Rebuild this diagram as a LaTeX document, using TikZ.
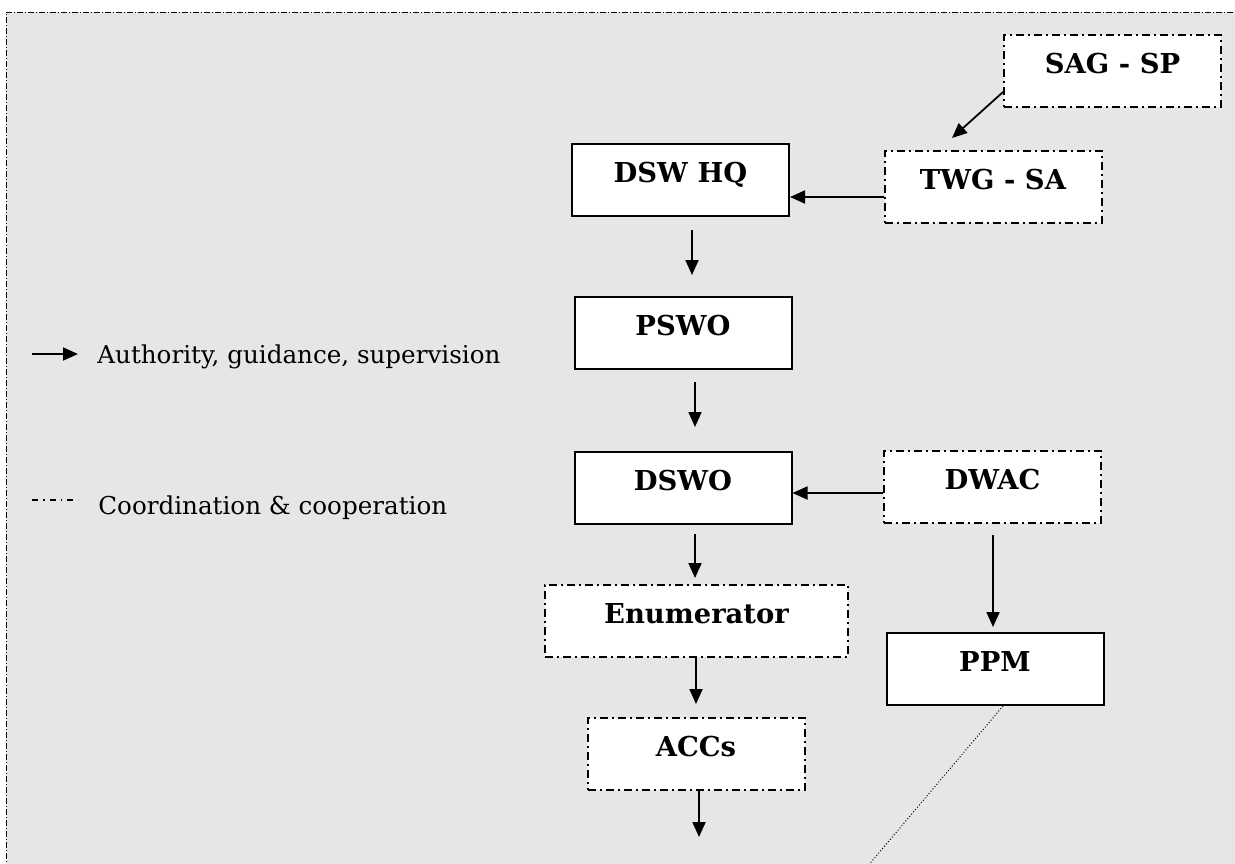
\documentclass[tikz,border=0pt]{standalone}
\usepackage{fontspec}
\setmainfont{DejaVu Serif}
\usetikzlibrary{arrows.meta}
\definecolor{bggray}{RGB}{230,230,230}
\tikzset{
  unit/.style={draw, fill=white, line width=1pt, minimum width=108.5pt, inner sep=0pt,
    text height=19pt, text depth=17pt, anchor=north, font=\fontsize{13.7}{16}\selectfont\bfseries},
  coop/.style={unit, dash pattern=on 4pt off 2pt on 1pt off 2pt},
  flow/.style={-{Triangle[length=7.5pt,width=6.5pt]}, line width=0.9pt},
  legtext/.style={anchor=base west, inner sep=0pt, font=\fontsize{12.3}{14}\selectfont},
}

\begin{document}
\begin{tikzpicture}[x=0.5pt, y=-0.5pt] % reporting lines
\useasboundingbox (0,0) rectangle (1235,863);
\clip (0,0) rectangle (1235,863);
\fill[bggray] (6,12) rectangle (1240,870);
\draw[line width=0.5pt, dash pattern=on 3pt off 1pt on 0.5pt off 1pt] (6,870) -- (6,12) -- (1240,12);

% legend
\coordinate (authA) at (32,354);
\coordinate (authB) at (78,354);
\draw[flow] (authA) -- (authB);
\node[legtext] (auth) at (97,363) {Authority, guidance, supervision};
\coordinate (coopA) at (32,500);
\coordinate (coopB) at (78,500);
\draw[line width=0.6pt, dash pattern=on 3pt off 2.5pt on 0.75pt off 2.5pt] (coopA) -- (coopB);
\node[legtext] (coord) at (98,514) {Coordination \& cooperation};

% boxes
\node[coop] (sagsp) at (1112.5,34) {SAG - SP};
\node[coop] (twgsa) at (993,150) {TWG - SA};
\node[unit] (dswhq) at (680.5,143) {DSW HQ};
\node[unit] (pswo) at (683,296) {PSWO};
\node[unit] (dswo) at (683,451) {DSWO};
\node[coop] (dwac) at (992.5,450) {DWAC};
\node[coop, minimum width=151.5pt] (enum) at (696.5,584) {Enumerator};
\node[coop] (accs) at (696,717) {ACCs};
\node[unit] (ppm) at (995,632) {PPM};
\coordinate (accsend) at (699,837);
\coordinate (ppmend) at (839,900);

% lines
\draw[flow] ([yshift=8pt]sagsp.south west) -- ([xshift=-20.5pt,yshift=6pt]twgsa.north);
\draw[flow] ([yshift=-5pt]twgsa.west) -- ([yshift=-8.5pt]dswhq.east);
\draw[flow] ([xshift=5.75pt,yshift=-6.5pt]dswhq.south) -- ([xshift=4.5pt,yshift=10.5pt]pswo.north);
\draw[flow] ([xshift=6pt,yshift=-6pt]pswo.south) -- ([xshift=6pt,yshift=12pt]dswo.north);
\draw[flow] ([yshift=-3pt]dwac.west) -- ([yshift=-2.5pt]dswo.east);
\draw[flow] ([xshift=6pt,yshift=-4.5pt]dswo.south) -- ([xshift=-0.75pt,yshift=3pt]enum.north);
\draw[flow] ([xshift=0.25pt]dwac.south) ++(0,-5.5pt) -- ([xshift=-1pt,yshift=2.5pt]ppm.north);
\draw[flow] ([xshift=-0.25pt]enum.south) -- ([yshift=6.5pt]accs.north);
\draw[flow] ([xshift=1.5pt]accs.south) -- (accsend);
\draw[line width=0.5pt, dash pattern=on 0.5pt off 1pt] ([xshift=4pt]ppm.south) -- (ppmend);
\end{tikzpicture}
\end{document}
